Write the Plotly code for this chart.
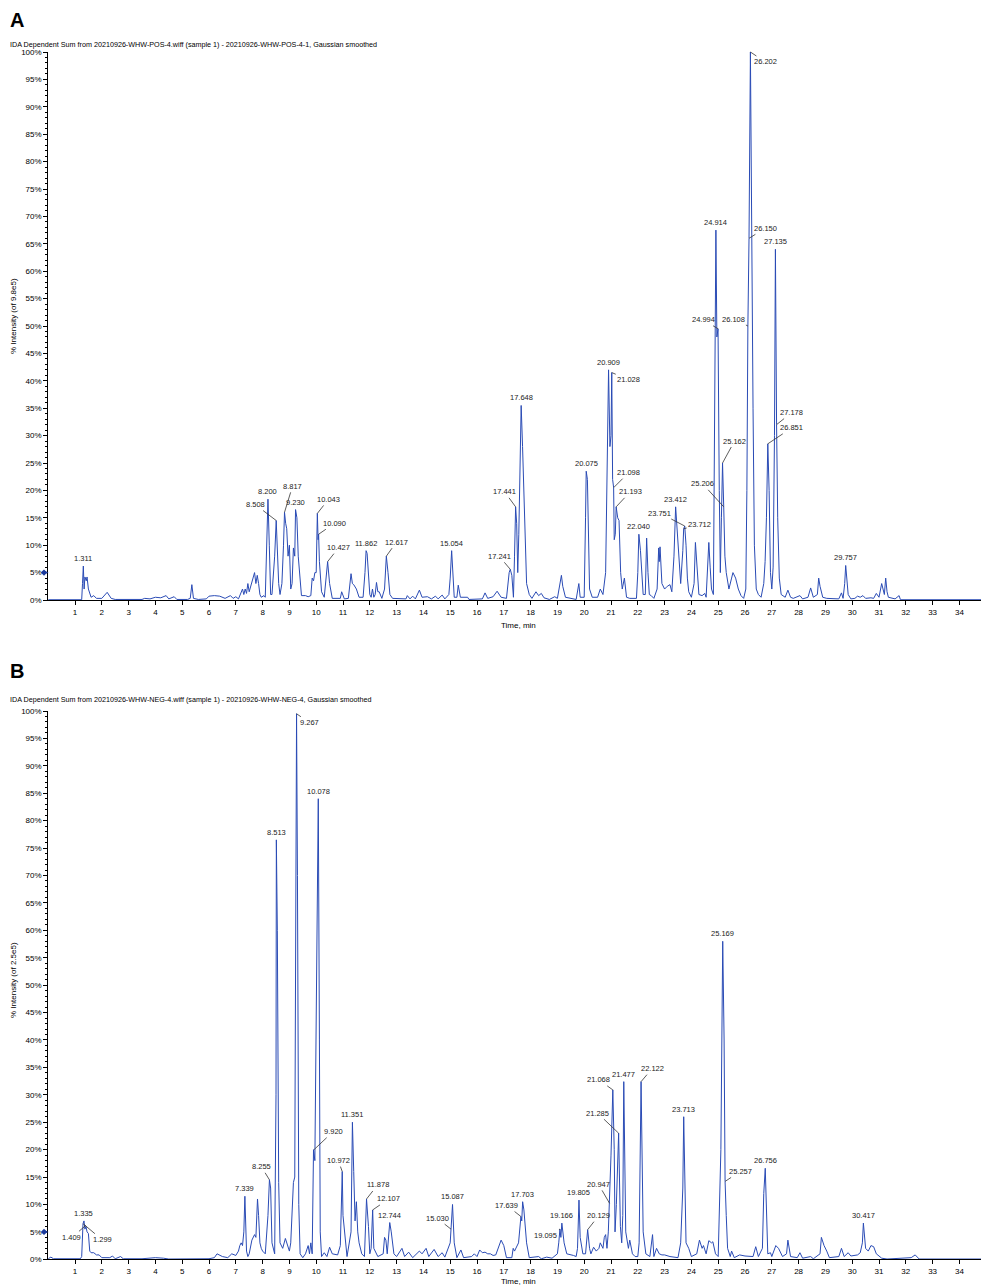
import plotly.graph_objects as go

# chromatogram A (positive mode), time in min, intensity in %
pos_time = [
    0.0, 1.25, 1.28, 1.311, 1.34, 1.37, 1.42, 1.45, 1.5, 1.6, 1.7, 1.8, 2.0, 2.2, 2.35, 2.5,
    3.5, 3.6, 3.8, 4.0, 4.2, 4.4, 4.5, 4.7, 4.8, 5.2, 5.3, 5.36, 5.42, 5.6, 5.9, 6.0,
    6.2, 6.4, 6.6, 6.8, 6.9, 7.0, 7.1, 7.2, 7.25, 7.3, 7.35, 7.4, 7.45, 7.5, 7.6, 7.65,
    7.7, 7.75, 7.8, 7.85, 7.9, 7.95, 8.05, 8.1, 8.15, 8.2, 8.25, 8.3, 8.35, 8.45, 8.508, 8.55,
    8.6, 8.65, 8.72, 8.78, 8.817, 8.86, 8.9, 8.95, 9.0, 9.05, 9.1, 9.15, 9.2, 9.23, 9.28, 9.33,
    9.4, 9.45, 9.6, 9.7, 9.8, 9.85, 9.9, 9.95, 10.0, 10.043, 10.07, 10.09, 10.12, 10.2, 10.3, 10.38,
    10.427, 10.5, 10.6, 10.9, 10.95, 11.05, 11.2, 11.3, 11.35, 11.4, 11.5, 11.6, 11.75, 11.82, 11.862, 11.9,
    11.95, 12.0, 12.05, 12.1, 12.15, 12.2, 12.25, 12.3, 12.35, 12.45, 12.55, 12.617, 12.68, 12.75, 12.85, 13.35,
    13.4, 13.5, 13.6, 13.7, 13.85, 13.95, 14.15, 14.3, 14.45, 14.55, 14.7, 14.8, 14.95, 15.0, 15.054, 15.1,
    15.15, 15.25, 15.3, 15.38, 15.65, 15.7, 16.2, 16.3, 16.4, 16.6, 16.75, 16.9, 17.1, 17.2, 17.241, 17.3,
    17.36, 17.4, 17.441, 17.48, 17.52, 17.56, 17.648, 17.7, 17.75, 17.8, 17.85, 17.95, 18.05, 18.2, 18.3, 18.4,
    18.5, 18.7, 18.9, 19.0, 19.1, 19.15, 19.2, 19.3, 19.7, 19.8, 19.85, 20.0, 20.05, 20.075, 20.12, 20.15,
    20.2, 20.3, 20.5, 20.6, 20.7, 20.8, 20.86, 20.909, 20.96, 21.0, 21.028, 21.06, 21.098, 21.12, 21.16, 21.193,
    21.25, 21.3, 21.36, 21.42, 21.5, 21.58, 21.7, 21.95, 22.0, 22.04, 22.1, 22.15, 22.2, 22.28, 22.33, 22.38,
    22.43, 22.5, 22.6, 22.72, 22.78, 22.8, 22.83, 22.9, 23.0, 23.1, 23.2, 23.27, 23.35, 23.412, 23.47, 23.52,
    23.6, 23.68, 23.712, 23.751, 23.8, 23.85, 23.9, 24.0, 24.1, 24.15, 24.2, 24.28, 24.4, 24.5, 24.55, 24.6,
    24.65, 24.7, 24.75, 24.82, 24.87, 24.914, 24.95, 24.994, 25.04, 25.08, 25.12, 25.162, 25.206, 25.25, 25.3, 25.4,
    25.5, 25.55, 25.65, 25.75, 25.85, 25.95, 26.03, 26.07, 26.108, 26.15, 26.202, 26.25, 26.3, 26.35, 26.42, 26.5,
    26.6, 26.7, 26.75, 26.8, 26.851, 26.9, 26.95, 27.0, 27.05, 27.1, 27.135, 27.178, 27.22, 27.28, 27.35, 27.5,
    27.6, 27.7, 27.8, 28.05, 28.15, 28.35, 28.45, 28.55, 28.7, 28.75, 28.8, 28.9, 29.05, 29.5, 29.6, 29.66,
    29.72, 29.757, 29.8, 29.85, 29.95, 30.1, 30.2, 30.3, 30.4, 30.5, 30.7, 30.8, 30.9, 31.0, 31.1, 31.15,
    31.2, 31.25, 31.3, 31.35, 31.6, 31.75, 31.8, 35.5,
]
pos_intensity = [
    0.05, 0.05, 3, 6.2, 2, 4.2, 3.5, 4.2, 2, 0.5, 0.8, 0.3, 0.3, 1.4, 0.3, 0.1,
    0.1, 0.3, 0.2, 0.5, 0.4, 0.8, 0.2, 0.6, 0.1, 0.1, 0.3, 2.8, 0.3, 0.1, 0.2, 0.7,
    0.8, 0.7, 0.3, 0.8, 0.3, 0.6, 0.2, 1.5, 2, 1, 2, 1.2, 3, 1.5, 3.5, 4.5,
    5, 3, 4.5, 3, 1, 0.5, 0.8, 0.5, 8, 18.4, 10, 1, 1, 8, 14.5, 10,
    3, 1, 3, 10, 16, 14, 13, 8, 10, 2, 3, 9.5, 8, 16.5, 15, 8,
    3, 0.8, 0.8, 0.6, 0.8, 4, 3.5, 5, 5, 15.8, 11, 12, 7, 1.5, 0.5, 4,
    7, 3, 0.3, 0.3, 1.5, 0.2, 0.3, 4.8, 3, 2.8, 2, 0.5, 0.5, 5, 9, 8.5,
    4, 1, 0.5, 2, 0.5, 1, 3.2, 1.5, 1.5, 0.3, 2, 8, 5, 1, 0.3, 0.2,
    0.8, 0.2, 0.7, 0.2, 1.8, 0.5, 0.6, 0.2, 0.7, 0.2, 0.9, 0.2, 1, 4, 9, 5,
    0.5, 0.5, 2.7, 0.5, 0.5, 0.1, 0.2, 1.3, 0.3, 0.6, 1.6, 0.5, 0.3, 5, 5.6, 4.5,
    0.5, 8, 17, 14, 5, 12, 35.5, 28, 20, 8, 3, 1, 0.3, 1.5, 0.8, 1.2,
    0.4, 0.1, 0.6, 0.3, 3, 4.5, 2.5, 0.5, 0.1, 3, 0.5, 0.5, 15, 23.5, 22, 12,
    2, 0.5, 0.5, 2, 1, 5, 25, 42, 28, 30, 41.5, 22, 20.5, 11, 12, 17,
    15, 14.5, 5, 2, 4, 0.5, 0.3, 0.3, 5, 12, 9, 5, 1, 1, 11.3, 5,
    1, 0.8, 0.3, 2, 9.5, 7, 9.7, 3, 2, 2.5, 2.8, 1.5, 8, 17, 12, 8,
    3, 9, 13, 13.5, 10, 4, 1.5, 0.5, 3, 10.5, 7, 1, 0.8, 1.2, 0.5, 6,
    10.5, 6, 2, 1, 30, 67.5, 48, 49.5, 20, 5, 15, 25, 17, 8, 5, 2,
    4, 5, 4, 2, 0.8, 0.3, 2, 20, 50, 66, 100, 60, 35, 10, 2, 1,
    0.5, 3, 7, 15, 28.5, 20, 5, 2, 6, 30, 64, 32, 15, 4, 1, 0.5,
    1.8, 0.5, 0.3, 0.8, 0.2, 0.5, 2.2, 0.5, 1, 4, 2.5, 0.5, 0.3, 0.2, 1.3, 0.3,
    3, 6.3, 3, 1, 0.2, 0.3, 0.7, 0.5, 0.8, 0.3, 0.4, 0.3, 1.2, 0.5, 3, 2,
    1, 4, 1.5, 0.5, 0.2, 0.8, 0.05, 0.05,
]

# chromatogram B (negative mode)
neg_time = [
    0.0, 0.1, 0.2, 1.2, 1.25, 1.29, 1.299, 1.335, 1.37, 1.409, 1.45, 1.5, 1.55, 1.6, 1.7, 1.8,
    1.9, 2.0, 2.3, 2.4, 2.5, 2.7, 2.8, 3.5, 4.0, 4.3, 4.5, 6.0, 6.1, 6.2, 6.3, 6.4,
    6.5, 6.7, 6.85, 7.0, 7.1, 7.15, 7.2, 7.25, 7.3, 7.339, 7.37, 7.4, 7.45, 7.5, 7.6, 7.7,
    7.75, 7.81, 7.85, 7.9, 7.95, 8.0, 8.1, 8.2, 8.255, 8.3, 8.35, 8.4, 8.45, 8.5, 8.513, 8.55,
    8.6, 8.65, 8.75, 8.85, 8.9, 9.0, 9.05, 9.1, 9.15, 9.2, 9.23, 9.267, 9.3, 9.35, 9.4, 9.5,
    9.6, 9.7, 9.75, 9.8, 9.85, 9.9, 9.95, 10.0, 10.078, 10.12, 10.15, 10.2, 10.3, 10.4, 10.5, 10.6,
    10.8, 10.9, 10.972, 11.0, 11.05, 11.1, 11.15, 11.3, 11.351, 11.4, 11.45, 11.5, 11.55, 11.6, 11.7, 11.8,
    11.878, 11.95, 12.0, 12.05, 12.107, 12.15, 12.3, 12.5, 12.55, 12.6, 12.65, 12.744, 12.8, 12.9, 13.0, 13.2,
    13.3, 13.45, 13.6, 13.85, 13.95, 14.1, 14.2, 14.4, 14.55, 14.7, 14.8, 15.0, 15.03, 15.087, 15.15, 15.25,
    15.4, 15.5, 15.8, 15.9, 16.0, 16.1, 16.2, 16.3, 16.4, 16.5, 16.6, 16.7, 16.9, 17.0, 17.1, 17.3,
    17.35, 17.4, 17.55, 17.639, 17.67, 17.703, 17.75, 17.85, 17.95, 18.3, 18.4, 18.6, 18.8, 19.0, 19.05, 19.095,
    19.13, 19.166, 19.25, 19.35, 19.6, 19.7, 19.75, 19.805, 19.85, 19.95, 20.05, 20.129, 20.2, 20.25, 20.35, 20.45,
    20.55, 20.6, 20.7, 20.75, 20.8, 20.85, 20.9, 20.947, 21.0, 21.068, 21.12, 21.15, 21.2, 21.285, 21.35, 21.4,
    21.44, 21.477, 21.52, 21.55, 21.65, 21.7, 21.8, 21.9, 22.0, 22.05, 22.122, 22.15, 22.2, 22.3, 22.45, 22.55,
    22.6, 22.7, 22.8, 22.9, 23.0, 23.2, 23.5, 23.6, 23.68, 23.713, 23.75, 23.8, 23.9, 24.0, 24.2, 24.3,
    24.4, 24.45, 24.55, 24.65, 24.75, 24.8, 24.9, 25.0, 25.1, 25.169, 25.22, 25.257, 25.3, 25.35, 25.45, 25.5,
    25.6, 25.8, 26.0, 26.3, 26.4, 26.5, 26.65, 26.7, 26.756, 26.8, 26.85, 26.95, 27.0, 27.15, 27.25, 27.4,
    27.55, 27.6, 27.65, 27.7, 27.95, 28.05, 28.15, 28.45, 28.55, 28.8, 28.85, 28.95, 29.05, 29.15, 29.5, 29.6,
    29.7, 29.85, 29.95, 30.2, 30.3, 30.38, 30.417, 30.5, 30.6, 30.7, 30.8, 30.9, 31.0, 31.1, 31.3, 32.2,
    32.35, 32.4, 32.5, 35.5,
]
neg_intensity = [
    0.1, 0.4, 0.1, 0.1, 0.5, 5, 6.5, 7, 5.5, 6, 5, 4.7, 1.5, 1.2, 1.2, 0.8,
    0.8, 0.3, 0.3, 0.6, 0.1, 0.5, 0.1, 0.1, 0.3, 0.2, 0.05, 0.1, 0.2, 0.3, 1.0, 0.7,
    0.5, 0.3, 1.0, 0.7, 1.5, 2.5, 3, 2.5, 5, 11.5, 3, 1.5, 0.5, 1, 3.5, 4.5,
    4, 11, 8, 3, 2, 1.5, 1, 8, 14.5, 13, 3, 2, 1, 30, 76.5, 60,
    14, 3, 2, 3.8, 3, 1.5, 3, 8, 14, 15, 50, 99.5, 70, 10, 1, 0.3,
    1, 2.5, 1, 3, 1, 20, 18, 45, 84, 40, 5, 0.5, 1.2, 0.5, 2.2, 1,
    0.8, 2.5, 16, 8, 5.5, 2, 0.5, 5, 25, 16, 7, 10.5, 5, 3, 1, 0.5,
    11, 6, 1, 2, 9, 2, 0.5, 1, 4, 3.5, 1, 6.7, 5, 1, 0.5, 2,
    0.5, 1.3, 0.3, 1.5, 1, 2, 0.5, 1.8, 0.5, 1.2, 0.4, 3, 5.5, 10, 3, 0.3,
    1.7, 0.3, 0.5, 1.0, 0.5, 1.7, 1.2, 1.3, 1.0, 1.0, 0.7, 0.8, 3.5, 2.5, 0.3, 0.3,
    2, 1.5, 3, 7.8, 7, 10.5, 9, 3, 0.3, 0.5, 0.1, 0.4, 0.2, 1, 3, 5.5,
    4, 6.6, 3, 1, 0.7, 0.5, 2, 10.8, 4, 1, 1, 5.4, 2, 1, 2.2, 1.5,
    2, 3, 2, 4, 4.5, 2, 5, 10.2, 19, 30.9, 20, 5, 10, 23, 6, 3,
    8, 32.4, 20, 5, 2, 3.5, 1, 0.5, 0.5, 3, 32.4, 20, 5, 1, 0.5, 4.5,
    0.5, 2, 1, 0.8, 0.8, 0.5, 0.3, 3, 13, 26, 14, 3, 2, 0.5, 1, 3.5,
    2, 2.5, 1, 3.4, 3, 3.2, 1, 0.5, 20, 58, 40, 14.2, 8, 2, 0.5, 1.5,
    0.3, 0.8, 0.6, 0.5, 2.3, 0.5, 2, 12, 16.6, 8, 1, 1.2, 0.5, 2.5, 2, 0.5,
    1, 3.5, 2, 0.5, 0.3, 1.2, 0.2, 0.5, 0.1, 1, 4, 2.5, 1.5, 0.3, 0.5, 2,
    0.5, 1.2, 0.6, 0.8, 1.2, 3, 6.6, 2, 1.5, 2.5, 2.3, 1, 0.6, 0.2, 0.05, 0.3,
    0.8, 0.5, 0.05, 0.05,
]

# labelled peaks: retention time and apex intensity
pos_label_time = [1.311, 8.200, 8.508, 8.817, 9.230, 10.043, 10.090, 10.427, 11.862, 12.617, 15.054,
                  17.241, 17.441, 17.648, 20.075, 20.909, 21.028, 21.098, 21.193, 22.040, 23.412,
                  23.751, 23.712, 25.206, 25.162, 24.914, 24.994, 26.108, 26.150, 26.202, 27.135,
                  27.178, 26.851, 29.757]
pos_label_int = [6.2, 18.4, 14.5, 16, 16.5, 15.8, 12, 7, 9, 8, 9,
                 5.6, 17, 35.5, 23.5, 42, 41.5, 20.5, 17, 12, 17,
                 13.5, 13, 17, 25, 67.5, 49.5, 50, 66, 100, 64,
                 32, 28.5, 6.3]
neg_label_time = [1.335, 1.409, 1.299, 7.339, 8.255, 8.513, 9.267, 10.078, 9.920, 10.972, 11.351,
                  11.878, 12.107, 12.744, 15.030, 15.087, 17.639, 17.703, 19.166, 19.095, 19.805,
                  20.129, 20.947, 21.068, 21.285, 21.477, 22.122, 23.713, 25.169, 25.257, 26.756,
                  30.417]
neg_label_int = [7, 6.2, 6.5, 11.5, 14.5, 76.5, 99.5, 84, 20, 16, 25,
                 11, 9, 6.7, 5.5, 10, 7.8, 10.5, 6.6, 5.5, 10.8,
                 5.4, 10.2, 30.9, 23, 32.4, 32.4, 26, 58, 14.2, 16.6,
                 6.6]

# text offsets (px) for labels with a leader line; None = label sits on top of the peak
pos_label_offset = [None, None, (-21, -16), (8, -26), None, (11, -14), (16, -11), (11, -14), None,
                    (10, -14), None, (-11, -13), (-11, -15), None, None, None, (17, 7), (15, -15),
                    (14, -15), None, None, (-25, -13), (16, -4), (-21, -23), (12, -22), None,
                    (-15, -9), (-14, -7), (16, -10), (15, 10), None, (15, -12), (24, -16), None]
neg_label_offset = [None, (-14, 12), (19, 16), None, (-8, -13), None, (13, 9), None, (19, -18),
                    (-4, -11), None, (11, -14), (16, -11), None, (-14, -11), None, (-14, -11), None,
                    None, (-14, 6), None, (11, -14), (-11, -19), (-14, -10), (-21, -20), None,
                    (11, -13), None, None, (15, -10), None, None]

y_ticks = list(range(0, 101, 5))
x_ticks = list(range(1, 35))

FONT = "Liberation Sans, Arial, sans-serif"
LINE = "#2a4bb5"
W, H = 989, 1287
OFF = 8      # page margin of the browser
PX_PER_MIN = 26.8


def fx(px):
    return (px - OFF) / W


def fy(px):
    return (H - (px - OFF)) / H


fig = go.Figure()
fig.add_trace(go.Scatter(x=pos_time, y=pos_intensity, mode="lines",
                         line=dict(color=LINE, width=1), xaxis="x", yaxis="y", hoverinfo="x+y"))
fig.add_trace(go.Scatter(x=neg_time, y=neg_intensity, mode="lines",
                         line=dict(color=LINE, width=1), xaxis="x2", yaxis="y2", hoverinfo="x+y"))

x_left = 48.2
x_end = (W + OFF - x_left) / PX_PER_MIN
axis_x = dict(range=[0, x_end], tickvals=x_ticks, ticks="outside", ticklen=4, tickwidth=1,
              tickcolor="black", showline=True, linecolor="black", linewidth=1, showgrid=False,
              zeroline=False, automargin=False, tickfont=dict(size=8, family=FONT, color="black"))
axis_y = dict(range=[0, 100], tickvals=y_ticks, ticktext=[f"{v}%" for v in y_ticks],
              ticks="outside", ticklen=4, tickwidth=1, tickcolor="black", showline=True,
              linecolor="black", linewidth=1, showgrid=False, zeroline=False, automargin=False,
              tickfont=dict(size=8, family=FONT, color="black"),
              minor=dict(dtick=1, ticks="outside", ticklen=2, tickcolor="black", showgrid=False))

fig.update_layout(
    width=W, height=H,
    margin=dict(l=0, r=0, t=0, b=0, autoexpand=False),
    paper_bgcolor="white", plot_bgcolor="white",
    showlegend=False,
    xaxis=dict(axis_x, domain=[fx(x_left), 1.0], anchor="y"),
    yaxis=dict(axis_y, domain=[fy(600), fy(52)], anchor="x"),
    xaxis2=dict(axis_x, domain=[fx(x_left), 1.0], anchor="y2"),
    yaxis2=dict(axis_y, domain=[fy(1259.3), fy(711)], anchor="x2"),
)

# 5% threshold marker (diamond with arrow) left of each y axis
shapes = []
for ya in ("y", "y2"):
    cx, hw, hh = fx(44), 3.2 / W, 3.2 / 5.48
    shapes.append(dict(type="path", xref="paper", yref=ya, fillcolor="#1c3a9c", line=dict(width=0),
                       path=f"M {cx - hw},5 L {cx},{5 + hh} L {cx + hw},5 L {cx},{5 - hh} Z"))
    shapes.append(dict(type="path", xref="paper", yref=ya, fillcolor="#1c3a9c", line=dict(width=0),
                       path=f"M {cx},{5 + hh * 0.6} L {fx(48.5)},5 L {cx},{5 - hh * 0.6} Z"))
fig.update_layout(shapes=shapes)

annotations = []


def add_labels(times, ints, offsets, xa, ya):
    for t, h, off in zip(times, ints, offsets):
        base = dict(x=t, y=h, xref=xa, yref=ya, text=f"{t:.3f}",
                    font=dict(size=7.5, family=FONT, color="#222"))
        if off is None:
            base.update(showarrow=False, xanchor="center", yanchor="bottom", yshift=1)
        else:
            base.update(showarrow=True, arrowhead=0, arrowwidth=0.8, arrowcolor="#333",
                        ax=off[0], ay=off[1], standoff=0)
        annotations.append(base)


add_labels(pos_label_time, pos_label_int, pos_label_offset, "x", "y")
add_labels(neg_label_time, neg_label_int, neg_label_offset, "x2", "y2")

headers = [
    ("A", 20, "IDA Dependent Sum from 20210926-WHW-POS-4.wiff (sample 1) - 20210926-WHW-POS-4-1, Gaussian smoothed",
     44, "% Intensity (of 9.8e5)", 316, 625),
    ("B", 671, "IDA Dependent Sum from 20210926-WHW-NEG-4.wiff (sample 1) - 20210926-WHW-NEG-4, Gaussian smoothed",
     700, "% Intensity (of 2.5e5)", 980, 1281),
]
for letter, ly, title, ty, ytitle, yty, xty in headers:
    annotations.append(dict(x=fx(17), y=fy(ly), xref="paper", yref="paper", text=f"<b>{letter}</b>",
                            xanchor="center", yanchor="middle", showarrow=False, borderpad=0,
                            font=dict(size=20, family=FONT, color="black")))
    annotations.append(dict(x=0, y=fy(ty), xref="paper", yref="paper", text=title,
                            xanchor="left", yanchor="middle", showarrow=False,
                            font=dict(size=7.2, family=FONT, color="black")))
    annotations.append(dict(x=fx(13), y=fy(yty), xref="paper", yref="paper", text=ytitle,
                            xanchor="center", yanchor="middle", textangle=-90, showarrow=False,
                            font=dict(size=8, family=FONT, color="black")))
    annotations.append(dict(x=fx(519), y=fy(xty), xref="paper", yref="paper", text="Time, min",
                            xanchor="center", yanchor="middle", showarrow=False,
                            font=dict(size=8, family=FONT, color="black")))

fig.update_layout(annotations=annotations)
fig.write_html("out.html")
